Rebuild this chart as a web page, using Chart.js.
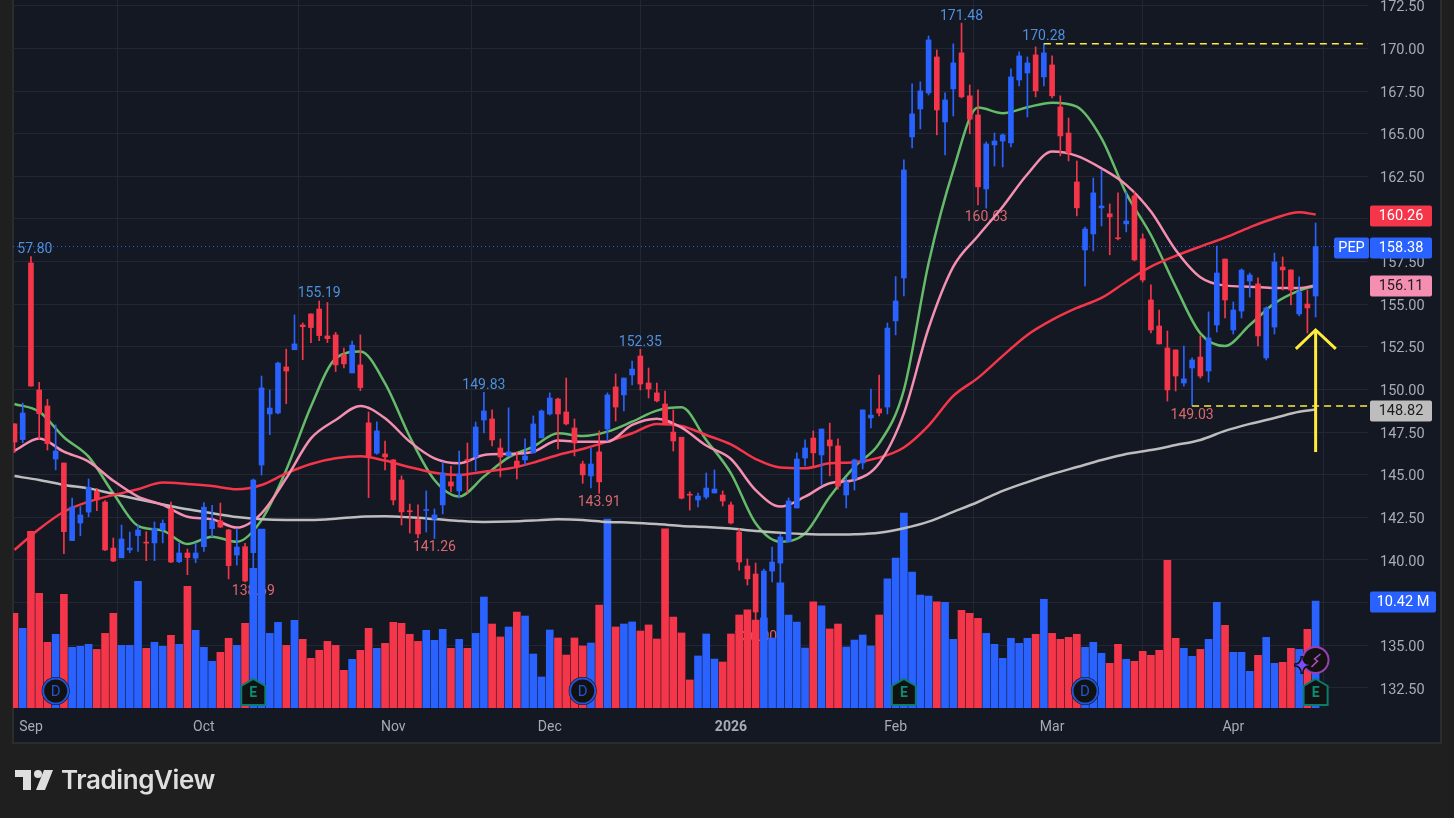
<!DOCTYPE html>
<html>
<head>
<meta charset="utf-8">
<title>PEP</title>
<script src="https://cdn.jsdelivr.net/npm/chart.js@4/dist/chart.umd.min.js"></script>
<style>
    html, body { margin: 0; padding: 0; background: #1f1f1f; overflow: hidden; }
    #panel { position: absolute; left: 12px; top: 0; width: 1430px; height: 744px; box-sizing: border-box;
             background: #141823; border: 2px solid #2c2c2c; border-top: none; }
    #chart { position: absolute; left: 0; top: 0; display: block; }
    #logo { position: absolute; left: 15px; top: 770px; }
    #brand { position: absolute; left: 61px; top: 764px; font: 600 26px Inter, sans-serif; color: #dedede; letter-spacing: -0.4px; }
</style>
</head>
<body>
<div id="panel"></div>
<canvas id="chart" width="1454" height="818"></canvas>
<svg id="logo" width="40" height="21" viewBox="0 0 40 21">
    <path d="M0 0H16V20H8V7H0Z M29 0H38L30 20H21Z" fill="#dedede"/>
    <circle cx="23" cy="4" r="4" fill="#dedede"/>
</svg>
<span id="brand">TradingView</span>
<script>
// Daily candles
const opens = [
    147.98,147.06,157.42,149.97,149.03,145.92,145.69,141.14,142.17,142.81,144.02,143.40,140.70,140.13,140.59,141.43,141.03,141.00,141.78,143.00,
    139.90,140.41,140.11,140.78,141.84,142.30,141.76,140.29,140.78,140.43,145.57,148.56,148.62,151.32,152.33,153.78,154.43,154.72,153.14,153.20,
    152.02,150.97,151.44,148.04,146.26,146.22,145.87,144.69,142.86,142.37,142.90,142.39,143.23,144.58,144.05,145.85,146.04,148.21,148.27,146.57,
    146.10,145.80,145.87,146.28,147.16,148.56,149.44,148.68,147.74,145.63,144.93,146.34,147.68,150.15,149.68,150.85,151.96,150.38,149.80,149.15,
    147.50,147.20,143.84,143.52,143.69,143.93,143.81,143.23,141.64,139.65,139.18,136.50,139.35,139.82,141.06,143.05,145.98,147.15,146.16,147.04,
    146.69,143.81,144.75,145.69,148.33,148.86,148.97,154.02,156.54,164.81,166.45,167.39,169.50,165.69,167.63,169.74,167.22,166.10,161.76,164.34,
    164.57,164.46,168.15,168.56,169.62,168.33,169.03,166.57,165.04,162.17,158.18,159.12,160.65,160.30,158.87,159.71,161.35,158.83,155.25,153.72,
    152.43,152.32,150.38,151.26,151.90,151.08,153.78,157.65,153.49,154.60,156.36,156.19,151.85,153.66,157.18,157.01,154.43,155.01,155.48
];
const highs = [
    148.00,149.20,157.80,150.42,149.42,147.92,145.69,143.63,143.13,144.75,144.20,143.48,141.29,142.05,141.64,142.05,141.66,142.23,142.35,143.40,
    141.00,140.64,141.00,143.36,143.20,143.34,141.80,141.82,140.98,144.75,150.79,149.97,151.60,152.37,154.37,153.90,154.43,155.19,155.10,153.35,
    152.43,152.84,153.20,148.68,148.10,146.98,145.90,144.93,143.28,143.23,144.05,142.99,145.75,145.50,146.39,146.86,148.09,149.83,148.80,147.10,
    148.92,146.34,147.10,148.45,148.80,149.80,149.50,150.67,148.27,145.80,146.57,147.57,149.80,150.91,150.67,151.67,152.35,151.26,150.38,149.91,
    148.80,147.20,144.00,143.93,145.10,145.28,144.05,143.40,141.82,140.06,139.82,139.47,140.76,141.52,143.64,146.28,147.04,147.57,147.68,148.03,
    147.10,144.81,145.92,148.80,150.03,150.85,153.90,156.62,163.46,167.92,168.04,170.73,169.91,167.39,170.27,171.48,167.86,167.57,164.52,165.04,
    164.99,168.80,169.80,169.50,170.09,170.28,169.56,167.22,165.92,163.40,159.53,162.40,162.87,160.88,161.53,161.59,161.59,159.12,156.13,154.66,
    153.43,152.32,152.55,151.85,153.14,154.55,158.41,157.65,155.13,157.07,156.83,156.54,154.84,158.00,157.77,157.01,156.60,155.83,159.76
];
const lows = [
    146.30,146.88,150.20,147.08,146.45,145.28,140.37,141.14,141.42,142.54,142.89,140.55,139.90,140.13,140.43,140.50,139.96,139.96,141.00,139.84,
    139.84,139.14,139.84,140.50,141.37,141.90,138.89,139.70,138.72,138.69,144.98,147.35,148.56,149.17,152.33,151.75,152.75,152.86,152.75,151.05,
    151.26,150.97,149.93,143.66,146.20,145.28,143.23,142.05,141.58,141.30,141.64,141.26,142.70,143.99,143.64,143.93,145.22,147.45,146.69,144.87,
    146.10,144.75,145.57,146.28,147.16,148.50,146.51,147.92,146.10,144.50,144.22,143.91,146.98,148.15,148.74,150.27,149.97,149.50,149.27,147.92,
    146.39,143.58,142.93,143.11,143.58,143.93,143.17,142.11,139.41,138.53,136.00,136.50,138.71,138.50,141.06,143.05,145.51,145.51,144.40,144.93,
    144.16,143.05,144.10,145.34,147.74,148.45,148.56,153.20,155.48,164.17,165.28,167.27,164.93,163.76,166.04,167.10,164.99,160.82,160.63,163.11,
    163.05,164.23,167.80,165.98,167.16,167.80,167.10,163.70,163.40,160.18,156.07,158.12,159.59,157.90,158.77,159.24,157.54,156.30,153.31,152.67,
    149.32,149.91,150.20,149.03,150.67,150.44,153.37,154.19,153.25,154.19,155.42,152.55,151.73,153.25,155.83,154.96,154.31,153.31,154.25
];
const closes = [
    146.92,148.62,150.20,148.58,146.82,146.39,141.66,143.11,142.64,144.26,143.52,140.59,139.94,141.23,140.70,141.76,140.99,141.86,142.15,139.88,
    140.41,140.14,140.41,143.10,142.29,141.93,139.67,140.76,138.77,144.69,150.09,148.91,151.55,151.08,152.67,153.68,153.63,153.16,152.98,151.44,
    151.50,152.60,150.11,146.10,147.57,146.04,143.52,142.82,142.83,141.53,142.93,142.64,145.10,144.34,145.04,145.83,147.80,148.74,147.04,146.04,
    146.34,145.45,146.10,147.98,148.74,149.50,148.56,147.98,146.86,144.99,145.63,144.58,149.68,148.97,150.67,151.20,150.32,150.03,149.33,147.98,
    146.98,143.62,143.80,143.75,144.22,144.16,143.46,142.17,139.88,138.89,136.95,139.35,139.88,141.35,143.46,145.92,146.57,146.28,147.68,146.69,
    144.34,144.57,145.87,148.80,148.50,148.62,153.60,155.19,162.87,166.16,167.51,170.50,166.39,166.98,169.15,167.16,165.85,161.88,164.40,164.57,
    164.93,168.33,169.56,169.15,167.51,169.74,167.22,164.87,163.87,160.65,159.41,161.53,160.76,160.12,158.84,159.88,157.60,156.42,153.49,152.67,
    149.97,150.79,150.62,151.73,150.79,153.02,156.83,155.25,154.66,157.00,156.71,153.14,154.78,157.48,157.01,155.83,155.72,154.78,158.38
];
// Volume in millions
const volumes = [
    9.22,7.76,17.2,11.17,6.40,7.18,11.07,5.91,6.01,6.20,5.71,7.27,9.22,6.10,6.10,12.34,5.81,6.40,6.01,7.08,
    6.20,11.85,7.57,5.91,4.55,5.42,6.79,6.10,8.25,13.60,17.43,7.27,8.34,6.10,8.54,6.69,4.84,5.62,6.49,6.10,
    3.67,4.74,5.62,7.76,5.81,6.30,8.34,8.25,7.18,6.49,7.57,6.59,7.66,5.81,6.69,5.81,7.27,10.81,8.18,6.92,
    7.89,9.35,8.96,5.26,3.02,7.60,6.82,5.16,6.82,6.04,6.33,10.03,18.41,7.89,8.18,8.38,7.50,8.09,6.72,17.44,
    8.86,7.31,2.73,5.07,7.21,4.77,4.48,7.21,9.06,9.55,8.57,8.77,6.82,12.18,9.06,8.38,5.84,10.33,9.94,7.70,
    8.18,5.94,6.62,7.11,6.04,9.06,12.57,14.61,18.99,13.25,11.01,10.91,10.33,10.29,6.69,9.51,9.22,8.73,7.27,6.20,
    4.84,6.79,6.30,6.79,7.18,10.59,7.27,6.69,6.88,7.18,5.91,6.40,5.33,4.35,6.20,4.74,4.55,5.52,5.13,5.62,
    14.38,6.79,5.81,5.03,5.71,6.69,10.29,8.05,5.42,5.42,3.57,5.13,6.88,4.35,4.45,5.81,5.71,7.66,10.42
];

// Moving averages, read at these bars
const maBars = [
    0,3,6,9,12,15,18,21,24,27,30,33,36,39,42,45,48,51,54,57,60,63,66,69,72,75,78,81,
    84,87,90,93,96,99,102,105,108,111,114,117,120,123,126,129,132,135,138,141,144,147,150,153,156,158
];
const maGreen = [
    149.15,148.70,147.20,146.06,143.91,142.00,141.72,140.94,141.37,141.07,142.34,145.28,149.00,151.82,152.22,150.36,147.23,144.69,143.72,144.89,146.02,146.65,147.43,147.27,147.53,148.11,148.76,148.95,
    147.04,145.08,142.15,141.07,141.56,143.71,145.47,146.84,149.97,157.40,162.87,166.53,166.20,166.55,166.82,166.59,164.73,161.50,159.06,156.03,153.29,152.55,153.78,155.05,155.80,156.07
];
const maPink = [
    146.41,147.13,146.35,145.77,144.65,143.72,143.23,142.54,142.39,141.90,142.74,144.79,147.13,148.21,149.03,148.31,146.94,145.96,145.67,146.16,146.22,146.35,147.00,146.94,146.94,147.92,148.29,147.76,
    146.71,145.92,144.10,143.13,143.71,144.50,144.69,145.67,148.60,153.59,157.20,159.00,160.72,162.62,163.95,163.70,162.97,162.00,160.43,158.18,156.58,156.09,156.03,155.95,155.95,156.11
];
const maRed = [
    140.59,141.82,142.83,143.42,143.81,144.15,144.54,144.46,144.34,144.15,144.40,145.08,145.63,145.96,146.08,145.83,145.44,145.12,144.99,145.18,145.36,145.71,146.16,146.51,146.94,147.43,147.98,147.86,
    147.33,146.78,145.92,145.42,145.38,145.67,145.73,146.00,146.60,147.88,149.62,150.68,151.97,153.20,154.08,154.78,155.37,156.32,157.20,157.83,158.38,158.90,159.51,160.04,160.39,160.26
];
const maGrey = [
    144.92,144.69,144.40,144.20,143.87,143.56,143.26,142.97,142.74,142.52,142.39,142.35,142.35,142.42,142.54,142.56,142.50,142.40,142.29,142.23,142.25,142.31,142.39,142.35,142.23,142.19,142.11,142.00,
    141.94,141.84,141.70,141.60,141.52,141.49,141.51,141.60,141.86,142.25,142.82,143.40,144.05,144.57,145.04,145.45,145.86,146.22,146.45,146.74,147.04,147.57,147.98,148.33,148.69,148.82
];

// Axes
const priceTicks = [132.5,135,137.5,140,142.5,145,147.5,150,152.5,155,157.5,160,162.5,165,167.5,170,172.5];
const monthBars = [2,23,46,65,87,107,126,148];
const monthLabels = ['Sep','Oct','Nov','Dec','2026','Feb','Mar','Apr'];

// Marked highs and lows
const highMarks = [2,37,57,76,115,125];
const lowMarks = [29,51,71,90,118,143];

// Hand drawn annotations
const lastPrice = 158.38;
const resistance = 170.28;
const resistanceBar = 125;
const support = 149.03;
const supportBar = 143;
const arrowBar = 158;
const arrowShaft = [146.33,153.49];
const arrowHeadBars = [155.6,158,160.45];
const arrowHeadPrices = [152.38,153.49,152.38];

// Event markers
const dividendBars = [5,69,130];
const earningsBars = [29,108,158];

const X_MIN = -0.18, X_MAX = 164.36;
const UP = '#2962ff', DOWN = '#f5364a';
const FONT = 'Roboto, sans-serif';

const bars = opens.map((_, i) => i);
const candleColors = bars.map(i => closes[i] >= opens[i] ? UP : DOWN);

function maSet(values, color, order) {
    return {
        type: 'line', label: 'ma', order,
        data: maBars.map((b, i) => ({ x: b, y: values[i] })),
        borderColor: color, borderWidth: 2.5, pointRadius: 0,
        cubicInterpolationMode: 'monotone'
    };
}

function markSet(data, color, width, dash, order) {
    return {
        type: 'line', label: 'mark', order, data,
        borderColor: color, borderWidth: width, borderDash: dash, pointRadius: 0, tension: 0
    };
}

// Hi/lo labels sit under the bars and lines
const labelPlugin = {
    id: 'hiLoLabels',
    beforeDatasetsDraw(chart) {
        const { ctx, chartArea: a, scales: { x, y } } = chart;
        ctx.save();
        ctx.beginPath();
        ctx.rect(a.left + 2.5, a.top, a.right - a.left, a.bottom - a.top);
        ctx.clip();
        ctx.font = '14px ' + FONT;
        ctx.textAlign = 'center';
        ctx.textBaseline = 'middle';
        ctx.fillStyle = '#4f8fdc';
        highMarks.forEach(b => ctx.fillText(highs[b].toFixed(2), x.getPixelForValue(b), y.getPixelForValue(highs[b]) - 7));
        ctx.fillStyle = '#d9686e';
        lowMarks.forEach(b => ctx.fillText(lows[b].toFixed(2), x.getPixelForValue(b), y.getPixelForValue(lows[b]) + 9));
        ctx.restore();
    }
};

function badge(ctx, left, width, cy, bg, fg, text) {
    ctx.fillStyle = bg;
    ctx.beginPath();
    ctx.roundRect(left, Math.round(cy) - 10.5, width, 21, 2);
    ctx.fill();
    ctx.fillStyle = fg;
    ctx.fillText(text, left + width / 2, Math.round(cy) + 0.5);
}

function dividendMarker(ctx, cx, cy) {
    ctx.beginPath();
    ctx.arc(cx, cy, 14, 0, Math.PI * 2);
    ctx.fillStyle = '#121212';
    ctx.fill();
    ctx.beginPath();
    ctx.arc(cx, cy, 12.5, 0, Math.PI * 2);
    ctx.strokeStyle = '#1f55d8';
    ctx.lineWidth = 2;
    ctx.stroke();
    ctx.fillStyle = '#1f55d8';
    ctx.font = '15px ' + FONT;
    ctx.fillText('D', cx, cy + 1);
}

function earningsMarker(ctx, cx, cy) {
    ctx.beginPath();
    ctx.moveTo(cx, cy - 13);
    ctx.lineTo(cx + 12, cy - 6);
    ctx.lineTo(cx + 12, cy + 13);
    ctx.lineTo(cx - 12, cy + 13);
    ctx.lineTo(cx - 12, cy - 6);
    ctx.closePath();
    ctx.fillStyle = '#121212';
    ctx.fill();
    ctx.strokeStyle = '#0a7d6a';
    ctx.lineWidth = 2;
    ctx.stroke();
    ctx.fillStyle = '#0a8d76';
    ctx.font = 'bold 14px ' + FONT;
    ctx.fillText('E', cx, cy + 1);
}

const overlayPlugin = {
    id: 'overlay',
    afterDraw(chart) {
        const { ctx, scales: { x, y, yVol } } = chart;
        ctx.save();
        ctx.textAlign = 'center';
        ctx.textBaseline = 'middle';

        dividendBars.forEach(b => dividendMarker(ctx, x.getPixelForValue(b), 691));
        earningsBars.forEach(b => earningsMarker(ctx, x.getPixelForValue(b), 692));

        // lightning marker
        const lx = 1315.5, ly = 660;
        ctx.beginPath();
        ctx.arc(lx, ly, 13, 0, Math.PI * 2);
        ctx.fillStyle = '#121212';
        ctx.fill();
        ctx.strokeStyle = '#9c3fb5';
        ctx.lineWidth = 2;
        ctx.stroke();
        ctx.strokeStyle = '#b04fc9';
        ctx.lineWidth = 1.5;
        ctx.beginPath();
        ctx.moveTo(lx + 5, ly - 6);
        ctx.lineTo(lx - 1, ly - 1);
        ctx.lineTo(lx + 2, ly + 1);
        ctx.lineTo(lx - 4, ly + 7);
        ctx.stroke();

        // sparkle next to it
        const sx = 1302, sy = 665;
        ctx.beginPath();
        ctx.moveTo(sx, sy - 9);
        ctx.quadraticCurveTo(sx, sy, sx + 8, sy);
        ctx.quadraticCurveTo(sx, sy, sx, sy + 9);
        ctx.quadraticCurveTo(sx, sy, sx - 8, sy);
        ctx.quadraticCurveTo(sx, sy, sx, sy - 9);
        ctx.strokeStyle = '#121212';
        ctx.lineWidth = 3;
        ctx.stroke();
        ctx.fillStyle = '#7c4dff';
        ctx.fill();

        // price and indicator tags
        ctx.font = '14.5px ' + FONT;
        badge(ctx, 1370, 62, y.getPixelForValue(160.26) + 1, '#f5364a', '#ffffff', '160.26');
        badge(ctx, 1334, 35, y.getPixelForValue(lastPrice) + 1, UP, '#ffffff', 'PEP');
        badge(ctx, 1370, 62, y.getPixelForValue(lastPrice) + 1, UP, '#ffffff', lastPrice.toFixed(2));
        badge(ctx, 1370, 62, y.getPixelForValue(156.11) + 1, '#f48fb1', '#1c1c1c', '156.11');
        badge(ctx, 1370, 62, y.getPixelForValue(148.82) + 1, '#bdbdbd', '#1c1c1c', '148.82');
        badge(ctx, 1370, 66, yVol.getPixelForValue(10.42) + 0.5, UP, '#ffffff', '10.42 M');
        ctx.restore();
    }
};

new Chart(document.getElementById('chart').getContext('2d'), {
    data: {
        datasets: [
            // volume at the back
            {
                type: 'bar', label: 'volume', order: 20, yAxisID: 'yVol', grouped: false, barThickness: 7,
                data: bars.map(i => ({ x: i, y: volumes[i] })),
                backgroundColor: candleColors, borderWidth: 0
            },
            maSet(maGrey, '#bdbdbd', 13),
            maSet(maRed, '#f5364a', 12),
            maSet(maPink, '#f48fb1', 11),
            maSet(maGreen, '#66bb6a', 14),
            // last price line
            markSet([{ x: X_MIN, y: lastPrice }, { x: X_MAX, y: lastPrice }], UP, 1, [1, 3], 15),
            // candles: wick behind body
            {
                type: 'bar', label: 'wick', order: 3, grouped: false, barThickness: 1, minBarLength: 1,
                data: bars.map(i => ({ x: i, y: [lows[i], highs[i]] })),
                backgroundColor: candleColors, borderWidth: 0
            },
            {
                type: 'bar', label: 'body', order: 2, grouped: false, barThickness: 5, minBarLength: 1,
                data: bars.map(i => ({ x: i, y: [Math.min(opens[i], closes[i]), Math.max(opens[i], closes[i])] })),
                backgroundColor: candleColors, borderWidth: 0
            },
            // drawn levels and arrow
            markSet([{ x: resistanceBar, y: resistance }, { x: X_MAX, y: resistance }], '#ffeb3b', 1.5, [7, 5], 1),
            markSet([{ x: supportBar, y: support }, { x: X_MAX, y: support }], '#ffeb3b', 1.5, [7, 5], 1),
            markSet(arrowShaft.map(p => ({ x: arrowBar, y: p })), '#ffeb3b', 3, [], 0),
            markSet(arrowHeadBars.map((b, i) => ({ x: b, y: arrowHeadPrices[i] })), '#ffeb3b', 3, [], 0)
        ]
    },
    options: {
        responsive: false,
        animation: false,
        layout: { padding: { left: 13, right: 13, top: 0, bottom: 76 } },
        plugins: { legend: { display: false }, tooltip: { enabled: false } },
        scales: {
            x: {
                type: 'linear', min: X_MIN, max: X_MAX, bounds: 'data', offset: false,
                afterBuildTicks: axis => { axis.ticks = monthBars.map(v => ({ value: v })); },
                afterFit: axis => { axis.height = 34; axis.paddingLeft = 0; axis.paddingRight = 0; },
                ticks: {
                    autoSkip: false, maxRotation: 0, padding: 11, color: '#a8abb3',
                    font: ctx => ({ family: FONT, size: 14, weight: ctx.tick && ctx.tick.value === 87 ? 'bold' : 'normal' }),
                    callback: v => monthLabels[monthBars.indexOf(v)]
                },
                grid: { color: '#232733', drawTicks: false },
                border: { display: false }
            },
            y: {
                type: 'linear', position: 'right', min: 131.32, max: 172.84, bounds: 'data',
                afterBuildTicks: axis => { axis.ticks = priceTicks.map(v => ({ value: v })); },
                afterFit: axis => { axis.width = 73; axis.paddingTop = 0; axis.paddingBottom = 0; },
                ticks: {
                    padding: 12, labelOffset: 2, color: '#a8abb3', font: { family: FONT, size: 14.5 },
                    callback: v => v.toFixed(2)
                },
                grid: { color: '#232733', drawTicks: false },
                border: { display: false }
            },
            yVol: { type: 'linear', display: false, min: 0, max: 68.96, bounds: 'data' }
        }
    },
    plugins: [labelPlugin, overlayPlugin]
});
</script>
</body>
</html>
